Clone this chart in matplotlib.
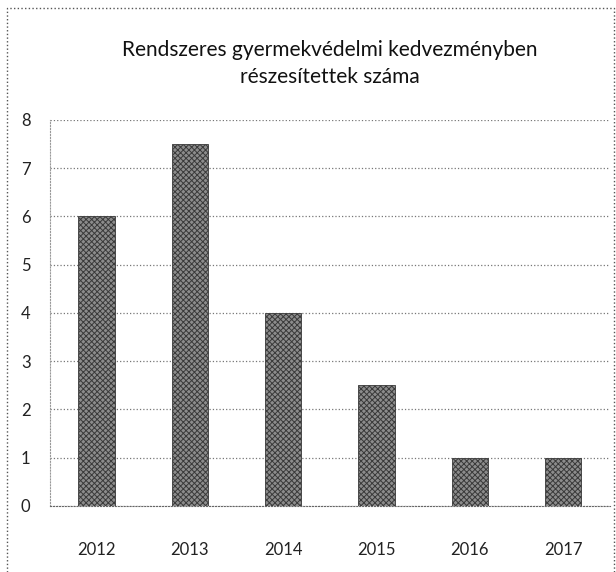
import matplotlib.pyplot as plt
from matplotlib.lines import Line2D

# Data
years = ['2012', '2013', '2014', '2015', '2016', '2017']
values = [6, 7.5, 4, 2.5, 1, 1]
y_ticks = [0, 1, 2, 3, 4, 5, 6, 7, 8]

plt.rcParams['font.family'] = ['Lato', 'DejaVu Sans']
plt.rcParams['hatch.color'] = '#4a4a4a'
plt.rcParams['hatch.linewidth'] = 0.7

fig = plt.figure(figsize=(6.16, 5.72), dpi=100)
ax = fig.add_axes([0.081, 0.1154, 0.909, 0.675])

x = list(range(len(years)))
ax.bar(x, values, width=0.39, color='#8c8c8c', edgecolor='#3a3a3a',
       hatch='xxxxxx', linewidth=0.6, zorder=3)

ax.set_xlim(-0.5, len(years) - 0.5)
ax.set_ylim(0, 8)
ax.set_yticks(y_ticks)
ax.set_xticks(x)
ax.set_xticklabels(years)

ax.grid(axis='y', linestyle=':', color='#777777', linewidth=0.9, zorder=0)
for side in ['top', 'right']:
    ax.spines[side].set_visible(False)
ax.spines['left'].set_linestyle(':')
ax.spines['left'].set_color('#999999')
ax.spines['bottom'].set_linestyle(':')
ax.spines['bottom'].set_color('#666666')

ax.tick_params(axis='both', length=0, labelsize=12, colors='#222222')
ax.tick_params(axis='x', pad=26)
ax.tick_params(axis='y', pad=14)

fig.text(0.535, 0.889, 'Rendszeres gyermekvédelmi kedvezményben\nrészesítettek száma',
         ha='center', va='center', fontsize=15, linespacing=1.45, color='#111111')

# dotted outer frame (left, top, right)
fx = [0.012, 0.012, 0.997, 0.997]
fy = [0.0, 0.986, 0.986, 0.0]
fig.add_artist(Line2D(fx, fy, transform=fig.transFigure, linestyle=':',
                      color='#555555', linewidth=1))

fig.savefig('out.png', dpi=100)
